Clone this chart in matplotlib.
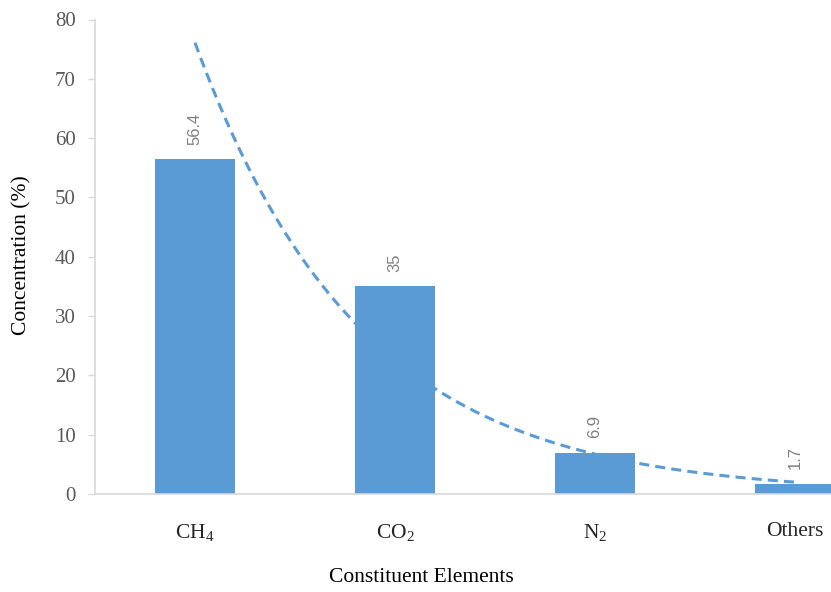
import numpy as np
import matplotlib
matplotlib.use("Agg")
import matplotlib.pyplot as plt

categories = [r"CH$_\mathrm{4}$", r"CO$_\mathrm{2}$", r"N$_\mathrm{2}$", "Others"]
values = [56.4, 35, 6.9, 1.7]
value_labels = ["56.4", "35", "6.9", "1.7"]
yticks = [0, 10, 20, 30, 40, 50, 60, 70, 80]

plt.rcParams["mathtext.fontset"] = "custom"
plt.rcParams["mathtext.rm"] = "Liberation Serif"
plt.rcParams["mathtext.it"] = "Liberation Serif:italic"
plt.rcParams["mathtext.bf"] = "Liberation Serif:bold"

W, H = 831, 592
fig = plt.figure(figsize=(W / 100, H / 100), dpi=100)
ax = fig.add_axes([95 / W, (H - 494) / H, 800 / W, (494 - 19.5) / H])

x = np.arange(len(categories))
bar_color = "#5B9BD5"

# exponential trendline (least squares on log values, like Excel)
b, loga = np.polyfit(x, np.log(values), 1)
xt = np.linspace(x[0], x[-1], 200)
yt = np.exp(loga + b * xt)
ax.plot(xt, yt, color=bar_color, lw=2.2, dashes=(3.3, 2.0), zorder=1)

ax.bar(x, values, width=0.4, color=bar_color, zorder=2)

for xi, v, lab in zip(x, values, value_labels):
    ax.annotate(lab, (xi, v), xytext=(0, 10.5), textcoords="offset points",
                rotation=90, ha="center", va="bottom", color="#808080",
                fontsize=12, family=["Liberation Sans Narrow", "Liberation Sans", "DejaVu Sans"])

ax.set_xlim(-0.5, 3.5)
ax.set_ylim(0, 80)
ax.set_yticks(yticks)
ax.set_yticklabels([str(t) for t in yticks], family="Liberation Serif", fontsize=15, color="#595959")
ax.set_xticks(x)
ax.set_xticklabels(categories, family="Liberation Serif", fontsize=15.5, color="#262626")
ax.tick_params(axis="x", length=0, pad=20)
ax.tick_params(axis="y", length=5, width=1, color="#d9d9d9", pad=9)

for s in ["top", "right"]:
    ax.spines[s].set_visible(False)
for s in ["left", "bottom"]:
    ax.spines[s].set_color("#d9d9d9")
    ax.spines[s].set_linewidth(1.2)

fig.text(22 / W, 1 - 255 / H, "Concentration (%)", rotation=90, ha="center", va="center",
         family="Liberation Serif", fontsize=15.5, color="#000000")
fig.text(421 / W, 1 - 578 / H, "Constituent Elements", ha="center", va="center",
         family="Liberation Serif", fontsize=15.5, color="#000000")

fig.savefig("out.png", dpi=100)
